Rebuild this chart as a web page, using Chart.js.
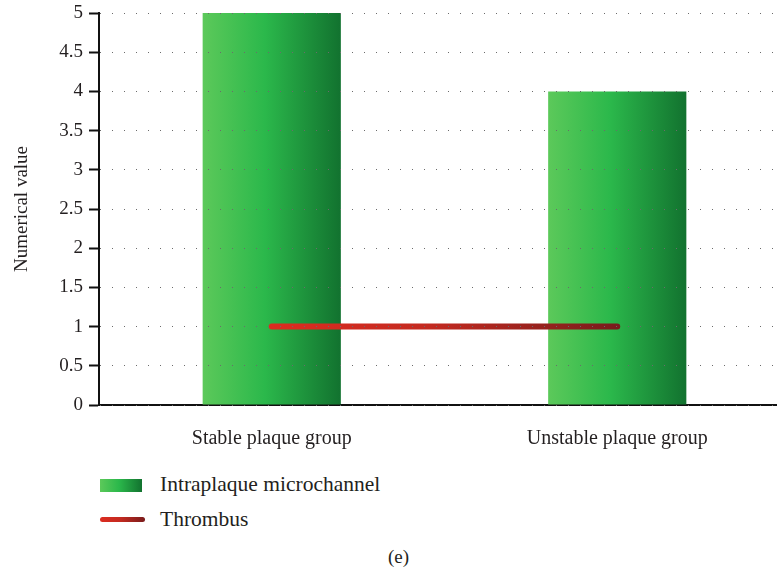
<!DOCTYPE html>
<html>
<head>
<meta charset="utf-8">
<script src="https://cdn.jsdelivr.net/npm/chart.js@4"></script>
<style>
  html, body { margin: 0; padding: 0; background: #fff; overflow: hidden; width: 777px; height: 571px; }
  #plot { position: absolute; left: 0; top: 0; }
  .lg { position: absolute; left: 0; font-family: "Liberation Serif", "Times New Roman", serif; font-size: 21.5px; color: #231f20; }
  .sw-bar { position: absolute; left: 100px; width: 42px; height: 13px; background: linear-gradient(to right, #5cc95a 0%, #2bb84b 45%, #12722f 100%); }
  .sw-line { position: absolute; left: 100px; width: 45px; height: 5px; border-radius: 3px; background: linear-gradient(to right, #dc2c20 0%, #c42a20 45%, #7a1c1c 100%); }
  .lg-text { position: absolute; left: 160px; white-space: nowrap; line-height: 22px; }
  #caption { position: absolute; top: 547px; left: 0; width: 797px; text-align: center; font-family: "Liberation Serif", "Times New Roman", serif; font-size: 19px; color: #231f20; line-height: 20px; }
</style>
</head>
<body>
<canvas id="plot" width="790" height="462"></canvas>
<div class="lg">
  <div class="sw-bar" style="top:479px"></div>
  <div class="lg-text" style="top:473px">Intraplaque microchannel</div>
  <div class="sw-line" style="top:517px"></div>
  <div class="lg-text" style="top:508px">Thrombus</div>
</div>
<div id="caption">(e)</div>
<script>
const categories = ['Stable plaque group', 'Unstable plaque group'];
const microchannelValues = [5, 4];
const thrombusValues = [1, 1];
const yTickValues = [0, 0.5, 1, 1.5, 2, 2.5, 3, 3.5, 4, 4.5, 5];

const SERIF = '"Liberation Serif", "Times New Roman", serif';
const INK = '#231f20';
const BAR_FRACTION = 0.4;

Chart.defaults.font.family = SERIF;
Chart.defaults.color = INK;

function barGradient(ctx) {
  const chart = ctx.chart;
  const xs = chart.scales.x;
  if (!xs || ctx.type !== 'data') return '#2bb84b';
  const cx = xs.getPixelForValue(ctx.dataIndex);
  const w = (xs.width / categories.length) * BAR_FRACTION;
  if (!Number.isFinite(cx) || !Number.isFinite(w) || w <= 0) return '#2bb84b';
  const g = chart.ctx.createLinearGradient(cx - w / 2, 0, cx + w / 2, 0);
  g.addColorStop(0, '#5cc95a');
  g.addColorStop(0.45, '#2bb84b');
  g.addColorStop(1, '#12722f');
  return g;
}

function lineGradient(ctx) {
  const chart = ctx.chart;
  const xs = chart.scales.x;
  if (!xs) return '#c42a20';
  const x0 = xs.getPixelForValue(0);
  const x1 = xs.getPixelForValue(categories.length - 1);
  if (!Number.isFinite(x0) || !Number.isFinite(x1) || x1 <= x0) return '#c42a20';
  const g = chart.ctx.createLinearGradient(x0, 0, x1, 0);
  g.addColorStop(0, '#dc2c20');
  g.addColorStop(0.45, '#c42a20');
  g.addColorStop(1, '#7a1c1c');
  return g;
}

new Chart(document.getElementById('plot'), {
  data: {
    labels: categories,
    datasets: [
      {
        type: 'line',
        label: 'Thrombus',
        data: thrombusValues,
        borderColor: lineGradient,
        borderWidth: 6,
        borderCapStyle: 'round',
        pointRadius: 0,
        fill: false,
        order: 0
      },
      {
        type: 'bar',
        label: 'Intraplaque microchannel',
        data: microchannelValues,
        backgroundColor: barGradient,
        borderWidth: 0,
        categoryPercentage: BAR_FRACTION,
        barPercentage: 1,
        order: 1
      }
    ]
  },
  options: {
    responsive: false,
    animation: false,
    events: [],
    layout: { padding: { top: 13, right: 0, bottom: 0, left: 0 } },
    plugins: { legend: { display: false }, tooltip: { enabled: false } },
    scales: {
      x: {
        grid: { display: false },
        border: { display: true, color: '#111', width: 2 },
        ticks: { color: INK, font: { family: SERIF, size: 20 }, padding: 14 },
        afterFit(s) { s.height = 57; s.paddingLeft = 0; s.paddingRight = 0; }
      },
      y: {
        min: 0,
        max: 5,
        afterBuildTicks(s) { s.ticks = yTickValues.map(v => ({ value: v })); },
        grid: {
          z: 1,
          color: '#6b6b6b',
          lineWidth: 1,
          tickColor: '#111',
          tickWidth: 2,
          tickLength: 10,
          tickBorderDash: []
        },
        border: { display: true, color: '#111', width: 2, dash: [1, 11], z: 1 },
        ticks: {
          color: INK,
          font: { family: SERIF, size: 19 },
          padding: 6,
          callback: v => String(v)
        },
        title: { display: true, text: 'Numerical value', color: INK, font: { family: SERIF, size: 19 }, padding: { top: 11, bottom: 0 } },
        afterFit(s) { s.width = 99; s.paddingTop = 0; s.paddingBottom = 0; }
      }
    }
  }
});
</script>
</body>
</html>
